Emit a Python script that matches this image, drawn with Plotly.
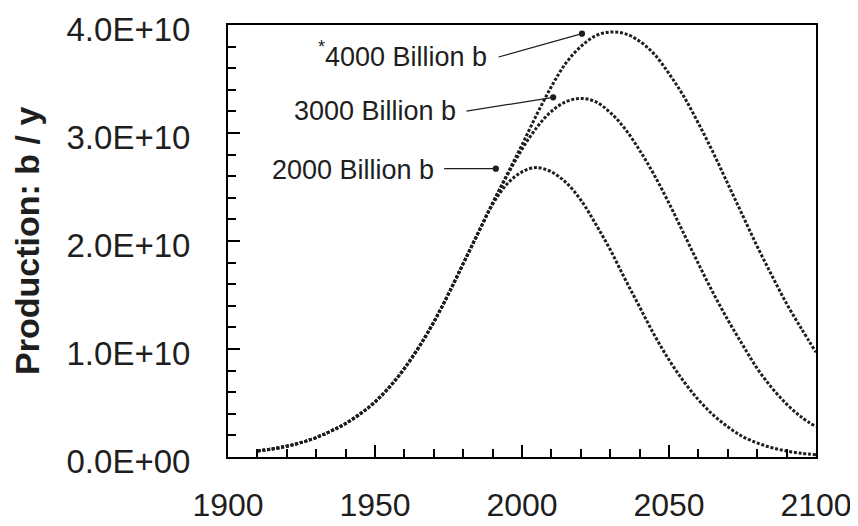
import plotly.graph_objects as go

# ---- data (production in billions of barrels per year) ----
years = [1910, 1915, 1920, 1925, 1930, 1935, 1940, 1945, 1950, 1955,
         1960, 1965, 1970, 1975, 1980, 1985, 1990, 1995, 2000, 2005,
         2010, 2015, 2020, 2025, 2030, 2035, 2040, 2045, 2050, 2055,
         2060, 2065, 2070, 2075, 2080, 2085, 2090, 2095, 2100]

prod_2000_bn = [0.55, 0.75, 1.0, 1.35, 1.8, 2.4, 3.1, 4.0, 5.1, 6.5,
                8.2, 10.2, 12.5, 15.1, 17.9, 20.7, 23.4, 25.3, 26.4, 26.8,
                26.4, 25.4, 23.8, 21.6, 19.2, 16.5, 13.9, 11.3, 9.0, 7.0,
                5.3, 3.9, 2.8, 1.9, 1.3, 0.86, 0.55, 0.34, 0.21]

prod_3000_bn = [0.55, 0.75, 1.0, 1.35, 1.8, 2.4, 3.1, 4.0, 5.1, 6.5,
                8.2, 10.2, 12.5, 15.1, 17.9, 20.7, 23.5, 26.1, 28.5, 30.5,
                32.0, 32.9, 33.2, 32.9, 31.9, 30.4, 28.4, 26.1, 23.5, 20.7,
                17.9, 15.2, 12.7, 10.4, 8.2, 6.4, 4.9, 3.7, 2.8]

prod_4000_bn = [0.55, 0.75, 1.0, 1.35, 1.8, 2.4, 3.1, 4.0, 5.1, 6.5,
                8.2, 10.2, 12.5, 15.1, 17.9, 20.7, 23.5, 26.2, 28.9, 31.7,
                34.3, 36.5, 38.0, 39.0, 39.35, 39.2, 38.5, 37.3, 35.5, 33.4,
                30.9, 28.2, 25.3, 22.4, 19.5, 16.8, 14.2, 11.9, 9.7]

series_names = ["4000 Billion b", "3000 Billion b", "2000 Billion b"]
series_values = [prod_4000_bn, prod_3000_bn, prod_2000_bn]

y_tick_values = [0, 1e10, 2e10, 3e10, 4e10]
y_tick_labels = ["0.0E+00", "1.0E+10", "2.0E+10", "3.0E+10", "4.0E+10"]
x_tick_values = [1900, 1950, 2000, 2050, 2100]
x_tick_labels = ["1900", "1950", "2000", "2050", "2100"]

FONT = "Liberation Sans, Arial, sans-serif"
INK = "#1e1e1e"

fig = go.Figure()
for name, vals in zip(series_names, series_values):
    fig.add_trace(go.Scatter(
        x=years,
        y=[v * 1e9 for v in vals],
        mode="lines",
        name=name,
        line=dict(color=INK, width=3, dash="3px,1.8px", shape="spline", smoothing=1.0),
        showlegend=False,
        hoverinfo="skip",
    ))

axis_common = dict(
    showline=True, linecolor="black", linewidth=2, mirror=True,
    showgrid=False, zeroline=False, automargin=False,
    ticks="inside", tickcolor="black", tickwidth=2, ticklen=12,
    ticklabeloverflow="allow",
)

fig.update_xaxes(
    range=[1900, 2100], tickvals=x_tick_values, ticktext=x_tick_labels,
    minor=dict(dtick=10, tick0=1900, ticks="inside", ticklen=8, tickwidth=2, tickcolor="black"),
    ticklabelstandoff=19,
    tickfont=dict(family=FONT, size=32, color=INK),
    **axis_common,
)
fig.update_yaxes(
    range=[0, 4e10], tickvals=y_tick_values, ticktext=y_tick_labels,
    minor=dict(dtick=2e9, tick0=0, ticks="inside", ticklen=8, tickwidth=2, tickcolor="black"),
    ticklabelstandoff=29, ticklabelshift=4,
    tickfont=dict(family=FONT, size=33, color=INK),
    **axis_common,
)

annotations = []
# y-axis title
annotations.append(dict(
    text="<b>Production: b / y</b>", xref="paper", yref="paper",
    x=-0.342, y=0.5, xanchor="center", yanchor="middle", textangle=-90,
    showarrow=False, font=dict(family=FONT, size=34, color=INK),
))

# labels for each curve
label_specs = [
    ("4000 Billion b", 1960.5, 37.0e9),
    ("3000 Billion b", 1949.9, 32.0e9),
    ("2000 Billion b", 1942.4, 26.6e9),
]
for txt, lx, ly in label_specs:
    annotations.append(dict(
        text=txt, x=lx, y=ly, xref="x", yref="y", showarrow=False,
        xanchor="center", yanchor="middle",
        font=dict(family=FONT, size=27, color=INK),
    ))

# pointer lines (tail -> tip)
arrow_specs = [
    (1991.5, 37.0e9, 2020.4, 39.2e9),
    (1980.6, 32.0e9, 2010.6, 33.3e9),
    (1973.0, 26.7e9, 1991.1, 26.7e9),
]
for tx, ty, hx, hy in arrow_specs:
    annotations.append(dict(
        text="", x=hx, y=hy, xref="x", yref="y",
        ax=tx, ay=ty, axref="x", ayref="y",
        showarrow=True, arrowhead=6, arrowsize=1.3, arrowwidth=1.2,
        arrowcolor=INK, standoff=0, startstandoff=0,
    ))

# small asterisk before the top label
annotations.append(dict(
    text="*", x=1931.9, y=38.0e9, xref="x", yref="y", showarrow=False,
    font=dict(family=FONT, size=18, color=INK),
))

# The page body has an 8px default margin; margins are set so that the plot
# area lands where it is in the 858x526 window.
fig.update_layout(
    width=850, height=518,
    margin=dict(l=220, r=42, t=17, b=69),
    paper_bgcolor="white", plot_bgcolor="white",
    annotations=annotations,
    font=dict(family=FONT, color=INK),
)

fig.write_html("out.html")
